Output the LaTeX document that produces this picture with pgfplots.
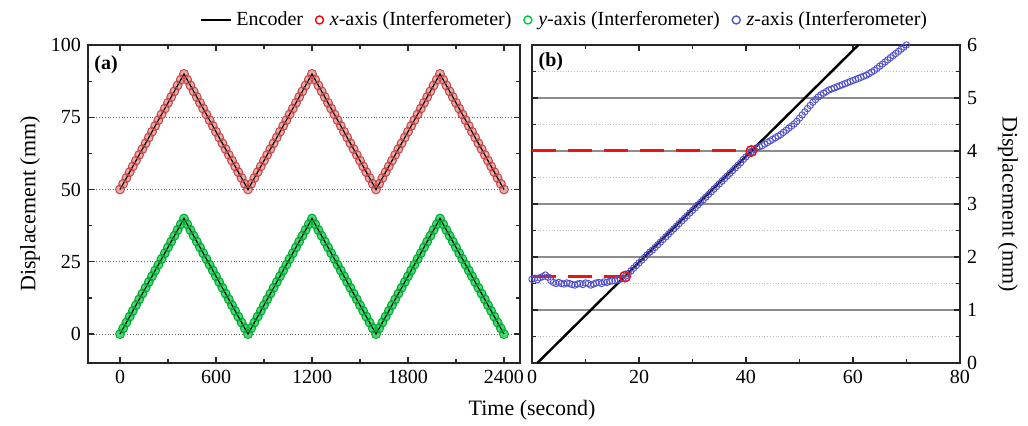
\documentclass[border=0pt]{standalone}
\usepackage{fontspec}
\setmainfont{Liberation Serif}
\usepackage{pgfplots}
\usepackage{pgfplotstable}
\pgfplotsset{compat=1.18}

\definecolor{xred}{RGB}{200,70,70}
\definecolor{ygreen}{RGB}{0,200,60}
\definecolor{zblue}{RGB}{80,80,205}
\definecolor{dred}{RGB}{235,20,20}

\pgfplotstableread[row sep=\\]{
t x y\\
0 50 0\\ 20 52 2\\ 40 54 4\\ 60 56 6\\ 80 58 8\\ 100 60 10\\ 120 62 12\\ 140 64 14\\ 160 66 16\\ 180 68 18\\ 200 70 20\\
220 72 22\\ 240 74 24\\ 260 76 26\\ 280 78 28\\ 300 80 30\\ 320 82 32\\ 340 84 34\\ 360 86 36\\ 380 88 38\\ 400 90 40\\
420 88 38\\ 440 86 36\\ 460 84 34\\ 480 82 32\\ 500 80 30\\ 520 78 28\\ 540 76 26\\ 560 74 24\\ 580 72 22\\ 600 70 20\\
620 68 18\\ 640 66 16\\ 660 64 14\\ 680 62 12\\ 700 60 10\\ 720 58 8\\ 740 56 6\\ 760 54 4\\ 780 52 2\\ 800 50 0\\
820 52 2\\ 840 54 4\\ 860 56 6\\ 880 58 8\\ 900 60 10\\ 920 62 12\\ 940 64 14\\ 960 66 16\\ 980 68 18\\ 1000 70 20\\
1020 72 22\\ 1040 74 24\\ 1060 76 26\\ 1080 78 28\\ 1100 80 30\\ 1120 82 32\\ 1140 84 34\\ 1160 86 36\\ 1180 88 38\\ 1200 90 40\\
1220 88 38\\ 1240 86 36\\ 1260 84 34\\ 1280 82 32\\ 1300 80 30\\ 1320 78 28\\ 1340 76 26\\ 1360 74 24\\ 1380 72 22\\ 1400 70 20\\
1420 68 18\\ 1440 66 16\\ 1460 64 14\\ 1480 62 12\\ 1500 60 10\\ 1520 58 8\\ 1540 56 6\\ 1560 54 4\\ 1580 52 2\\ 1600 50 0\\
1620 52 2\\ 1640 54 4\\ 1660 56 6\\ 1680 58 8\\ 1700 60 10\\ 1720 62 12\\ 1740 64 14\\ 1760 66 16\\ 1780 68 18\\ 1800 70 20\\
1820 72 22\\ 1840 74 24\\ 1860 76 26\\ 1880 78 28\\ 1900 80 30\\ 1920 82 32\\ 1940 84 34\\ 1960 86 36\\ 1980 88 38\\ 2000 90 40\\
2020 88 38\\ 2040 86 36\\ 2060 84 34\\ 2080 82 32\\ 2100 80 30\\ 2120 78 28\\ 2140 76 26\\ 2160 74 24\\ 2180 72 22\\ 2200 70 20\\
2220 68 18\\ 2240 66 16\\ 2260 64 14\\ 2280 62 12\\ 2300 60 10\\ 2320 58 8\\ 2340 56 6\\ 2360 54 4\\ 2380 52 2\\ 2400 50 0\\
}\tri

\pgfplotstableread[row sep=\\]{
t x y\\
0 50 0\\ 400 90 40\\ 800 50 0\\ 1200 90 40\\ 1600 50 0\\ 2000 90 40\\ 2400 50 0\\
}\enc

\pgfplotstableread[row sep=\\]{
t z\\
0 1.58\\ 0.5 1.60\\ 1 1.57\\ 1.5 1.61\\ 2 1.63\\ 2.5 1.66\\ 3 1.62\\ 3.5 1.56\\ 4 1.52\\ 4.5 1.50\\
5 1.52\\ 5.5 1.50\\ 6 1.49\\ 6.5 1.51\\ 7 1.50\\ 7.5 1.48\\ 8 1.47\\ 8.5 1.49\\ 9 1.50\\ 9.5 1.48\\
10 1.51\\ 10.5 1.50\\ 11 1.47\\ 11.5 1.49\\ 12 1.51\\ 12.5 1.52\\ 13 1.50\\ 13.5 1.53\\ 14 1.52\\ 14.5 1.54\\
15 1.55\\ 15.5 1.55\\ 16 1.57\\ 16.5 1.58\\ 17 1.60\\ 17.5 1.64\\ 18 1.69\\ 18.5 1.74\\ 19 1.79\\ 19.5 1.84\\
20 1.89\\ 20.5 1.94\\ 21 1.99\\ 21.5 2.04\\ 22 2.09\\ 22.5 2.13\\ 23 2.18\\ 23.5 2.23\\ 24 2.28\\ 24.5 2.33\\
25 2.38\\ 25.5 2.43\\ 26 2.48\\ 26.5 2.53\\ 27 2.58\\ 27.5 2.63\\ 28 2.68\\ 28.5 2.73\\ 29 2.78\\ 29.5 2.83\\
30 2.88\\ 30.5 2.93\\ 31 2.98\\ 31.5 3.03\\ 32 3.08\\ 32.5 3.13\\ 33 3.18\\ 33.5 3.23\\ 34 3.28\\ 34.5 3.33\\
35 3.38\\ 35.5 3.43\\ 36 3.48\\ 36.5 3.53\\ 37 3.58\\ 37.5 3.63\\ 38 3.68\\ 38.5 3.73\\ 39 3.78\\ 39.5 3.84\\
40 3.89\\ 40.5 3.94\\ 41 3.99\\ 41.5 4.03\\ 42 4.06\\ 42.5 4.08\\ 43 4.10\\ 43.5 4.13\\ 44 4.16\\ 44.5 4.19\\
45 4.22\\ 45.5 4.25\\ 46 4.28\\ 46.5 4.31\\ 47 4.35\\ 47.5 4.39\\ 48 4.43\\ 48.5 4.47\\ 49 4.51\\ 49.5 4.56\\
50 4.62\\ 50.5 4.68\\ 51 4.74\\ 51.5 4.80\\ 52 4.86\\ 52.5 4.92\\ 53 4.97\\ 53.5 5.02\\ 54 5.06\\ 54.5 5.09\\
55 5.12\\ 55.5 5.15\\ 56 5.17\\ 56.5 5.19\\ 57 5.21\\ 57.5 5.23\\ 58 5.25\\ 58.5 5.27\\ 59 5.29\\ 59.5 5.31\\
60 5.33\\ 60.5 5.35\\ 61 5.37\\ 61.5 5.39\\ 62 5.41\\ 62.5 5.43\\ 63 5.46\\ 63.5 5.49\\ 64 5.52\\ 64.5 5.56\\
65 5.60\\ 65.5 5.64\\ 66 5.68\\ 66.5 5.72\\ 67 5.76\\ 67.5 5.80\\ 68 5.84\\ 68.5 5.88\\ 69 5.92\\ 69.5 5.96\\
70 6.00\\
}\zdat

\begin{document}
\begin{tikzpicture}
\pgfplotsset{
  myaxis/.style={
    scale only axis,
    anchor=south west,
    axis line style={black!85, line width=0.75pt},
    tick style={black!85, line width=0.6pt},
    tick align=inside,
    major tick length=3pt,
    minor tick length=2pt,
    xtick pos=both,
    ytick pos=both,
    tick label style={font=\fontsize{10}{12}\selectfont},
    label style={font=\fontsize{11}{13}\selectfont},
    /pgf/number format/assume math mode=true,
    /pgf/number format/1000 sep={},
  }
}
% ---------------- panel (a)
\begin{axis}[myaxis,
  at={(44pt,31.5pt)},
  width=216pt, height=159pt,
  xmin=-200, xmax=2500, ymin=-10, ymax=100,
  xtick={0,600,1200,1800,2400},
  minor x tick num=1,
  ytick={0,25,50,75,100},
  minor y tick num=1,
  ymajorgrids,
  major grid style={densely dotted, black!60, line width=0.5pt},
  xlabel={Time (second)},
  xlabel style={at={(axis description cs:1.028,-0.148)}, anchor=center},
  ylabel={Displacement (mm)},
  ylabel style={at={(axis description cs:-0.134,0.5)}, anchor=center},
  legend columns=4,
  legend style={at={(axis description cs:0.259,1.0786)}, anchor=west, draw=none, fill=none,
    inner sep=0pt, font=\fontsize{10}{12}\selectfont,
    /tikz/every even column/.append style={column sep=3pt}},
]
\addlegendimage{legend image code/.code={\draw[black, line width=1.1pt] (0pt,0pt) -- (15pt,0pt);}}
\addlegendentry{Encoder}
\addlegendimage{legend image code/.code={\draw[red, line width=0.7pt] (3pt,0pt) circle[radius=2pt]; \path (0pt,0pt) (6pt,0pt);}}
\addlegendentry{\textit{x}-axis (Interferometer)}
\addlegendimage{legend image code/.code={\draw[ygreen, line width=0.7pt] (3pt,0pt) circle[radius=2pt]; \path (0pt,0pt) (6pt,0pt);}}
\addlegendentry{\textit{y}-axis (Interferometer)}
\addlegendimage{legend image code/.code={\draw[zblue, line width=0.7pt] (3pt,0pt) circle[radius=2pt]; \path (0pt,0pt) (6pt,0pt);}}
\addlegendentry{\textit{z}-axis (Interferometer)}

\addplot[forget plot, xred!45, line width=4pt, line join=round, line cap=round] table[x=t, y=x] {\tri};
\addplot[forget plot, ygreen!70, line width=4pt, line join=round, line cap=round] table[x=t, y=y] {\tri};
\addplot[forget plot, only marks, mark=o, mark size=2.2pt, mark options={draw=xred, line width=0.5pt}] table[x=t, y=x] {\tri};
\addplot[forget plot, only marks, mark=o, mark size=2.2pt, mark options={draw=ygreen!85!black, line width=0.5pt}] table[x=t, y=y] {\tri};
\addplot[forget plot, black, line width=0.6pt] table[x=t, y=x] {\enc};
\addplot[forget plot, black, line width=0.6pt] table[x=t, y=y] {\enc};
\node[font=\bfseries\fontsize{10}{12}\selectfont] at (axis description cs:0.042,0.937) {(a)};
\end{axis}
% ---------------- panel (b)
\begin{axis}[myaxis,
  at={(266pt,31.5pt)},
  width=214pt, height=159pt,
  xmin=0, xmax=80, ymin=0, ymax=6,
  xtick={0,20,40,60,80},
  minor x tick num=1,
  ytick={0,1,2,3,4,5,6},
  minor y tick num=1,
  yticklabel pos=right,
  ymajorgrids, yminorgrids,
  major grid style={solid, black!45, line width=0.6pt},
  minor grid style={densely dotted, black!25, line width=0.5pt},
  ylabel={Displacement (mm)},
  ylabel style={at={(axis description cs:1.112,0.5)}, anchor=center, rotate=180},
]
\addplot[only marks, mark=o, mark size=1.6pt, mark options={draw=zblue, line width=0.45pt}] table[x=t, y=z] {\zdat};
\addplot[black, line width=1.2pt] coordinates {(1,0) (61,6)};
\addplot[dred, line width=1.5pt, dash pattern=on 12pt off 6pt] coordinates {(0,1.63) (17.4,1.63)};
\addplot[dred, line width=1.5pt, dash pattern=on 12pt off 6pt] coordinates {(0,4.0) (41,4.0)};
\addplot[only marks, mark=o, mark size=2.6pt, mark options={draw=dred, line width=0.8pt}] coordinates {(17.4,1.63) (41,4.0)};
\node[font=\bfseries\fontsize{10}{12}\selectfont] at (axis description cs:0.044,0.946) {(b)};
\end{axis}
\pgfresetboundingbox
\path (0pt,0pt) rectangle (514pt,213pt);
\end{tikzpicture}
\end{document}
